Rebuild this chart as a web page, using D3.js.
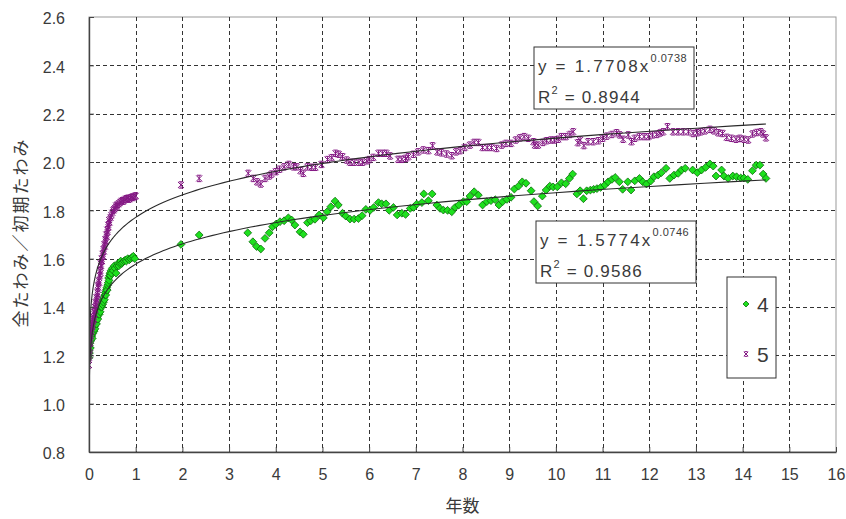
<!DOCTYPE html>
<html>
<head>
<meta charset="utf-8">
<script src="https://cdn.jsdelivr.net/npm/d3@7/dist/d3.min.js"></script>
<style>
  html, body { margin: 0; padding: 0; background: #fff; }
  svg { display: block; }
  text { font-family: "Liberation Sans", Arial, sans-serif; fill: #3a3a3a; }
</style>
</head>
<body>
<svg id="chart" width="846" height="519"></svg>
<script>
// Axis ticks
const xTicks = [0,1,2,3,4,5,6,7,8,9,10,11,12,13,14,15,16];
const yTicks = [0.8,1.0,1.2,1.4,1.6,1.8,2.0,2.2,2.4,2.6];

// Series "4": years elapsed and deflection ratio
const s4Years = [
  0.00,0.00,0.01,0.01,0.02,0.03,0.04,0.05,0.06,0.07,0.08,0.09,0.10,0.11,0.12,0.13,0.14,0.15,0.16,0.17,
  0.18,0.19,0.20,0.21,0.22,0.23,0.24,0.25,0.26,0.27,0.28,0.29,0.30,0.31,0.32,0.33,0.34,0.35,0.36,0.37,
  0.38,0.39,0.40,0.41,0.42,0.43,0.44,0.45,0.46,0.47,0.48,0.50,0.52,0.54,0.56,0.58,0.60,0.62,0.64,0.66,
  0.68,0.70,0.72,0.75,0.78,0.80,0.83,0.86,0.89,0.92,0.95,0.98,
  1.97,2.36,3.40,3.51,3.59,3.68,3.77,3.86,3.93,4.00,4.09,4.18,4.27,4.34,4.41,4.52,4.59,4.68,4.75,4.84,
  4.93,5.02,5.10,5.18,5.27,5.34,5.43,5.50,5.59,5.68,5.77,5.85,5.93,6.02,6.10,6.20,6.27,6.36,6.43,6.52,
  6.60,6.70,6.78,6.88,6.95,7.02,7.13,7.17,7.27,7.35,7.45,7.52,7.59,7.68,7.77,7.84,7.92,8.02,8.09,8.16,
  8.25,8.34,8.43,8.52,8.61,8.70,8.78,8.86,8.95,9.04,9.11,9.20,9.28,9.36,9.47,9.53,9.61,9.71,9.79,9.87,
  9.94,10.03,10.12,10.21,10.29,10.36,10.45,10.52,10.59,10.66,10.74,10.81,10.88,10.96,11.05,11.12,11.20,11.27,11.36,11.43,
  11.54,11.61,11.69,11.79,11.86,11.94,12.03,12.10,12.19,12.26,12.36,12.44,12.53,12.62,12.69,12.77,12.93,13.03,13.12,13.21,
  13.30,13.37,13.43,13.55,13.60,13.69,13.79,13.87,13.96,14.03,14.11,14.21,14.29,14.37,14.44,14.50
];
const s4Values = [
  1.19,1.22,1.21,1.24,1.25,1.23,1.26,1.27,1.28,1.27,1.29,1.30,1.31,1.30,1.32,1.31,1.33,1.34,1.33,1.35,
  1.36,1.35,1.37,1.38,1.37,1.39,1.38,1.40,1.41,1.40,1.42,1.41,1.43,1.42,1.44,1.43,1.45,1.46,1.45,1.47,
  1.48,1.47,1.49,1.50,1.52,1.51,1.53,1.54,1.53,1.55,1.54,1.56,1.55,1.57,1.56,1.54,1.57,1.58,1.57,1.58,
  1.59,1.58,1.585,1.59,1.595,1.59,1.60,1.595,1.60,1.605,1.61,1.60,
  1.659,1.698,1.707,1.670,1.650,1.640,1.684,1.707,1.732,1.742,1.753,1.757,1.769,1.760,1.739,1.711,1.701,1.749,1.757,1.763,
  1.781,1.769,1.794,1.815,1.838,1.822,1.788,1.776,1.764,1.764,1.766,1.778,1.804,1.800,1.812,1.832,1.827,1.827,1.800,1.812,
  1.781,1.788,1.783,1.808,1.812,1.826,1.832,1.868,1.840,1.868,1.822,1.808,1.801,1.800,1.794,1.812,1.822,1.836,1.836,1.859,
  1.877,1.863,1.822,1.836,1.840,1.844,1.822,1.836,1.845,1.854,1.888,1.900,1.918,1.912,1.881,1.836,1.818,1.859,1.884,1.900,
  1.897,1.897,1.914,1.910,1.932,1.950,1.868,1.881,1.848,1.881,1.884,1.887,1.890,1.895,1.905,1.918,1.928,1.936,1.918,1.887,
  1.918,1.884,1.922,1.932,1.918,1.909,1.921,1.939,1.946,1.956,1.974,1.932,1.946,1.953,1.967,1.974,1.967,1.956,1.967,1.978,
  1.992,1.983,1.942,1.967,1.942,1.932,1.942,1.939,1.934,1.934,1.928,1.964,1.987,1.987,1.950,1.932
];

// Series "5": years elapsed and deflection ratio
const s5Years = [
  0.00,0.00,0.00,0.01,0.01,0.02,0.02,0.03,0.03,0.04,0.05,0.05,0.06,0.07,0.08,0.08,0.09,0.10,0.11,0.11,
  0.12,0.13,0.14,0.14,0.15,0.16,0.17,0.18,0.19,0.19,0.20,0.21,0.22,0.23,0.24,0.25,0.25,0.26,0.27,0.28,
  0.29,0.30,0.31,0.32,0.33,0.34,0.35,0.36,0.37,0.38,0.39,0.40,0.41,0.42,0.43,0.44,0.46,0.48,0.50,0.52,
  0.54,0.56,0.58,0.60,0.62,0.65,0.68,0.71,0.74,0.77,0.80,0.83,0.86,0.89,0.92,0.95,0.98,1.00,
  1.97,2.36,3.41,3.52,3.60,3.68,3.77,3.86,3.91,4.00,4.08,4.18,4.28,4.38,4.45,4.53,4.59,4.68,4.77,4.85,
  4.98,5.11,5.20,5.28,5.35,5.43,5.52,5.59,5.68,5.78,5.86,5.95,6.00,6.09,6.20,6.29,6.37,6.45,6.62,6.70,
  6.78,6.84,6.95,7.05,7.16,7.27,7.36,7.46,7.55,7.66,7.77,7.86,7.95,8.05,8.16,8.25,8.34,8.43,8.53,8.62,
  8.73,8.84,8.93,9.04,9.14,9.23,9.32,9.41,9.52,9.55,9.62,9.72,9.80,9.89,9.97,10.05,10.12,10.21,10.30,10.37,
  10.47,10.52,10.60,10.69,10.80,10.91,11.00,11.09,11.20,11.30,11.37,11.44,11.55,11.62,11.69,11.79,11.89,11.98,12.07,12.16,
  12.23,12.30,12.39,12.51,12.62,12.73,12.84,12.94,13.03,13.10,13.19,13.30,13.39,13.48,13.57,13.66,13.76,13.86,13.94,14.03,
  14.12,14.21,14.30,14.39,14.44,14.50
];
const s5Values = [
  1.16,1.19,1.22,1.20,1.25,1.23,1.27,1.26,1.29,1.28,1.30,1.32,1.31,1.33,1.32,1.35,1.34,1.36,1.35,1.38,
  1.37,1.40,1.39,1.42,1.41,1.44,1.43,1.46,1.45,1.49,1.48,1.51,1.50,1.53,1.55,1.54,1.58,1.57,1.60,1.59,
  1.62,1.61,1.64,1.63,1.66,1.65,1.68,1.67,1.70,1.69,1.72,1.71,1.74,1.73,1.76,1.75,1.77,1.78,1.79,1.80,
  1.805,1.81,1.82,1.815,1.825,1.83,1.835,1.84,1.838,1.845,1.848,1.85,1.846,1.852,1.855,1.853,1.858,1.86,
  1.905,1.932,1.953,1.932,1.918,1.909,1.932,1.942,1.950,1.960,1.970,1.980,1.990,1.980,1.980,1.964,1.953,1.980,1.978,1.978,
  1.990,2.010,2.018,2.036,2.032,2.022,2.008,1.999,1.999,1.999,1.999,2.005,2.010,2.019,2.036,2.036,2.036,2.025,2.011,2.011,
  2.015,2.022,2.032,2.042,2.050,2.047,2.067,2.042,2.038,2.033,2.026,2.042,2.047,2.060,2.070,2.081,2.081,2.060,2.060,2.060,
  2.056,2.070,2.077,2.077,2.091,2.100,2.105,2.098,2.084,2.070,2.070,2.081,2.088,2.091,2.091,2.094,2.105,2.105,2.114,2.125,
  2.080,2.091,2.068,2.084,2.084,2.088,2.098,2.107,2.114,2.121,2.112,2.094,2.112,2.084,2.098,2.105,2.105,2.105,2.112,2.114,
  2.120,2.125,2.146,2.125,2.125,2.125,2.125,2.118,2.121,2.125,2.129,2.135,2.129,2.121,2.118,2.102,2.098,2.094,2.098,2.094,
  2.091,2.116,2.122,2.125,2.116,2.100
];

// Power trendlines y = a * x^b
const trendNames = ["4", "5"];
const trendCoefA = [1.5774, 1.7708];
const trendCoefB = [0.0746, 0.0738];
const trendR2 = ["0.9586", "0.8944"];

const svg = d3.select("#chart");
const plotL = 89, plotR = 836, plotT = 17, plotB = 452;

const x = d3.scaleLinear().domain([0, 16]).range([plotL, plotR]);
const y = d3.scaleLinear().domain([0.8, 2.6]).range([plotB, plotT]);

// plot frame (top/right)
svg.append("rect")
  .attr("x", plotL).attr("y", plotT)
  .attr("width", plotR - plotL).attr("height", plotB - plotT)
  .attr("fill", "#fff").attr("stroke", "#999").attr("stroke-width", 1);

// gridlines
const grid = svg.append("g").attr("stroke", "#333").attr("stroke-width", 1)
  .attr("stroke-dasharray", "4,3").attr("shape-rendering", "crispEdges");
grid.selectAll("line.h").data(yTicks.slice(1, -1)).join("line")
  .attr("x1", plotL).attr("x2", plotR)
  .attr("y1", d => Math.round(y(d)) + 0.5).attr("y2", d => Math.round(y(d)) + 0.5);
grid.selectAll("line.v").data(xTicks.slice(1, -1)).join("line")
  .attr("y1", plotT).attr("y2", plotB)
  .attr("x1", d => Math.round(x(d)) + 0.5).attr("x2", d => Math.round(x(d)) + 0.5);

// clip for data and trendlines
svg.append("defs").append("clipPath").attr("id", "plotClip")
  .append("rect").attr("x", plotL).attr("y", plotT)
  .attr("width", plotR - plotL).attr("height", plotB - plotT);

const plot = svg.append("g").attr("clip-path", "url(#plotClip)");

// markers
const diamond = "M0,-3.9L3.9,0L0,3.9L-3.9,0Z";
const star = "M-3,-3L3,3M3,-3L-3,3M-2.2,-3.2L2.2,-3.2M-2.2,3.2L2.2,3.2M0,-3L0,3";

const s4 = s4Years.map((d, i) => [d, s4Values[i]]);
const s5 = s5Years.map((d, i) => [d, s5Values[i]]);

plot.append("g").selectAll("path").data(s4).join("path")
  .attr("d", diamond)
  .attr("transform", d => `translate(${x(d[0])},${y(d[1])})`)
  .attr("fill", "#1ee01e").attr("stroke", "#0b6b0b").attr("stroke-width", 0.8);

plot.append("g").selectAll("path").data(s5).join("path")
  .attr("d", star)
  .attr("transform", d => `translate(${x(d[0])},${y(d[1])})`)
  .attr("fill", "none").attr("stroke", "#841884").attr("stroke-width", 1);

// trendline curves
const line = d3.line().x(d => x(d[0])).y(d => y(d[1]));
trendCoefA.forEach((a, k) => {
  const b = trendCoefB[k];
  const xs = d3.range(-5, Math.log10(14.5) + 1e-9, 0.02).map(e => Math.pow(10, e));
  xs.push(14.5);
  const pts = xs.map(v => [v, a * Math.pow(v, b)]);
  plot.append("path").datum(pts)
    .attr("d", line).attr("fill", "none")
    .attr("stroke", "#2a2a2a").attr("stroke-width", 1.1);
});

// axes
const yAxis = d3.axisLeft(y).tickValues(yTicks).tickFormat(d3.format(".1f"))
  .tickSizeInner(-5).tickSizeOuter(0).tickPadding(24);
const gy = svg.append("g").attr("transform", `translate(${plotL},0)`).call(yAxis);

const xAxis = d3.axisBottom(x).tickValues(xTicks).tickFormat(d3.format("d"))
  .tickSizeInner(-5).tickSizeOuter(0).tickPadding(17);
const gx = svg.append("g").attr("transform", `translate(0,${plotB})`).call(xAxis);

[gx, gy].forEach(g => {
  g.select(".domain").attr("stroke", "#444").attr("stroke-width", 1.4);
  g.selectAll(".tick line").attr("stroke", "#444");
  g.selectAll(".tick text").attr("font-size", 16).attr("fill", "#3a3a3a")
    .style("font-family", "'Liberation Sans', Arial, sans-serif");
});
gy.selectAll(".tick text").attr("dy", "0.42em");

// axis titles
svg.append("text")
  .attr("x", (plotL + plotR) / 2).attr("y", 512)
  .attr("text-anchor", "middle").attr("font-size", 17)
  .style("font-family", "'Noto Sans CJK JP', sans-serif")
  .text("年数");

svg.append("text")
  .attr("transform", `translate(27,${(plotT + plotB) / 2 - 2}) rotate(-90)`)
  .attr("text-anchor", "middle").attr("font-size", 17).attr("letter-spacing", 2)
  .style("font-family", "'Noto Sans CJK JP', sans-serif")
  .text("全たわみ／初期たわみ");

// trendline equation boxes
const eqBoxX = [536, 534];
const eqBoxY = [221, 47];
trendCoefA.forEach((a, k) => {
  const g = svg.append("g").attr("transform", `translate(${eqBoxX[k]},${eqBoxY[k]})`);
  g.append("rect").attr("width", 160).attr("height", 62)
    .attr("fill", "#fff").attr("stroke", "#333").attr("stroke-width", 1);
  const t1 = g.append("text").attr("x", 4).attr("y", 25).attr("font-size", 17).attr("letter-spacing", 2.2);
  t1.append("tspan").text(`y = ${a.toFixed(4)}x`);
  t1.append("tspan").attr("dy", -10).attr("font-size", 11).attr("letter-spacing", 0.5).text(trendCoefB[k].toFixed(4));
  const t2 = g.append("text").attr("x", 4).attr("y", 56).attr("font-size", 17).attr("letter-spacing", 1.2);
  t2.append("tspan").text("R");
  t2.append("tspan").attr("dy", -9).attr("font-size", 11).text("2");
  t2.append("tspan").attr("dy", 9).text(` = ${trendR2[k]}`);
});

// legend
const legend = svg.append("g").attr("transform", "translate(727,277)");
legend.append("rect").attr("width", 49).attr("height", 101)
  .attr("fill", "#fff").attr("stroke", "#333").attr("stroke-width", 1);
legend.append("path").attr("d", "M0,-3L3,0L0,3L-3,0Z")
  .attr("transform", "translate(19,27)")
  .attr("fill", "#1ee01e").attr("stroke", "#0b6b0b").attr("stroke-width", 0.8);
legend.append("path").attr("d", "M-2.2,-2.2L2.2,2.2M2.2,-2.2L-2.2,2.2M-1.6,-2.4L1.6,-2.4M-1.6,2.4L1.6,2.4")
  .attr("transform", "translate(19,77)")
  .attr("fill", "none").attr("stroke", "#841884").attr("stroke-width", 1);
legend.selectAll("text.lbl").data(trendNames).join("text")
  .attr("x", 30).attr("y", (d, i) => 35 + i * 50)
  .attr("font-size", 21).text(d => d);
</script>
</body>
</html>
